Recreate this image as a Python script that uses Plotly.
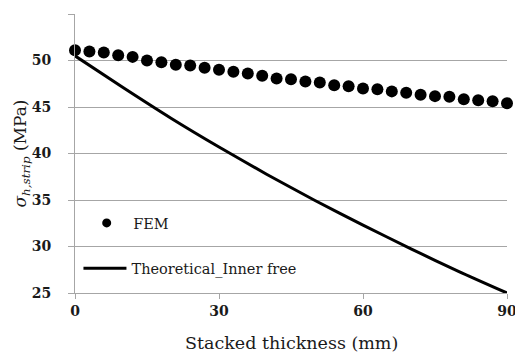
import plotly.graph_objects as go

# Data
fem_x = [0, 3, 6, 9, 12, 15, 18, 21, 24, 27, 30, 33, 36, 39, 42, 45, 48, 51, 54, 57,
         60, 63, 66, 69, 72, 75, 78, 81, 84, 87, 90]
fem_y = [51.1, 50.96, 50.85, 50.57, 50.39, 50.0, 49.82, 49.54, 49.47, 49.22, 49.0,
         48.8, 48.6, 48.35, 48.07, 47.99, 47.74, 47.63, 47.34, 47.23, 47.0, 46.9,
         46.68, 46.53, 46.31, 46.17, 46.1, 45.84, 45.73, 45.62, 45.4]
theo_x = [0, 10, 20, 30, 40, 50, 60, 70, 80, 90]
theo_y = [50.5, 47.1, 43.8, 40.7, 37.75, 34.95, 32.3, 29.75, 27.3, 25.0]
x_ticks = [0, 30, 60, 90]
y_ticks = [25, 30, 35, 40, 45, 50, 55]
x_title = "Stacked thickness (mm)"
y_title = "<i>σ</i><sub><i>h,strip</i></sub> (MPa)"

SERIF = "DejaVu Serif"
GRID = "#a6a6a6"
TXT = "#1a1a1a"

fig = go.Figure()
fig.add_trace(go.Scatter(x=fem_x, y=fem_y, mode="markers", name="FEM",
                         marker=dict(size=12, color="black"), showlegend=False,
                         cliponaxis=False))
fig.add_trace(go.Scatter(x=[None], y=[None], mode="markers", name="FEM",
                         marker=dict(size=9, color="black"), legend="legend"))
fig.add_trace(go.Scatter(x=theo_x, y=theo_y, mode="lines", name="Theoretical_Inner free",
                         line=dict(color="black", width=3, shape="spline", smoothing=0.6),
                         legend="legend2", cliponaxis=False))

fig.update_layout(
    width=515, height=349,
    margin=dict(l=67, r=16, t=6, b=64),
    paper_bgcolor="white", plot_bgcolor="white",
    font=dict(family=SERIF, color=TXT),
    legend=dict(x=0.012, y=0.251, xanchor="left", yanchor="middle",
                bgcolor="rgba(0,0,0,0)", font=dict(size=14.5, color=TXT),
                itemwidth=43),
    legend2=dict(x=0.008, y=0.088, xanchor="left", yanchor="middle",
                 bgcolor="rgba(0,0,0,0)", font=dict(size=14.5, color=TXT),
                 itemwidth=43),
    xaxis=dict(range=[0, 90], tickvals=x_ticks, showgrid=False, zeroline=False,
               showline=True, linecolor=GRID, linewidth=1, automargin=False,
               ticks="outside", ticklen=5, tickcolor=GRID,
               tickfont=dict(size=14, color=TXT, weight="bold")),
    yaxis=dict(range=[25, 55.001], tickvals=y_ticks, showgrid=True, gridcolor=GRID, gridwidth=1,
               zeroline=False, showline=True, linecolor=GRID, linewidth=1, automargin=False,
               ticks="outside", ticklen=6, tickcolor=GRID, ticklabelstandoff=14,
               tickfont=dict(size=14, color=TXT, weight="bold")),
    annotations=[
        dict(text=x_title, xref="paper", yref="paper", x=0.5, y=-0.179,
             xanchor="center", yanchor="middle", showarrow=False,
             font=dict(size=17.5, color=TXT)),
        dict(text=y_title, xref="paper", yref="paper", x=-0.1227, y=0.5,
             xanchor="center", yanchor="middle", showarrow=False, textangle=-90,
             font=dict(size=17, color=TXT)),
    ],
)

fig.write_html("out.html")
